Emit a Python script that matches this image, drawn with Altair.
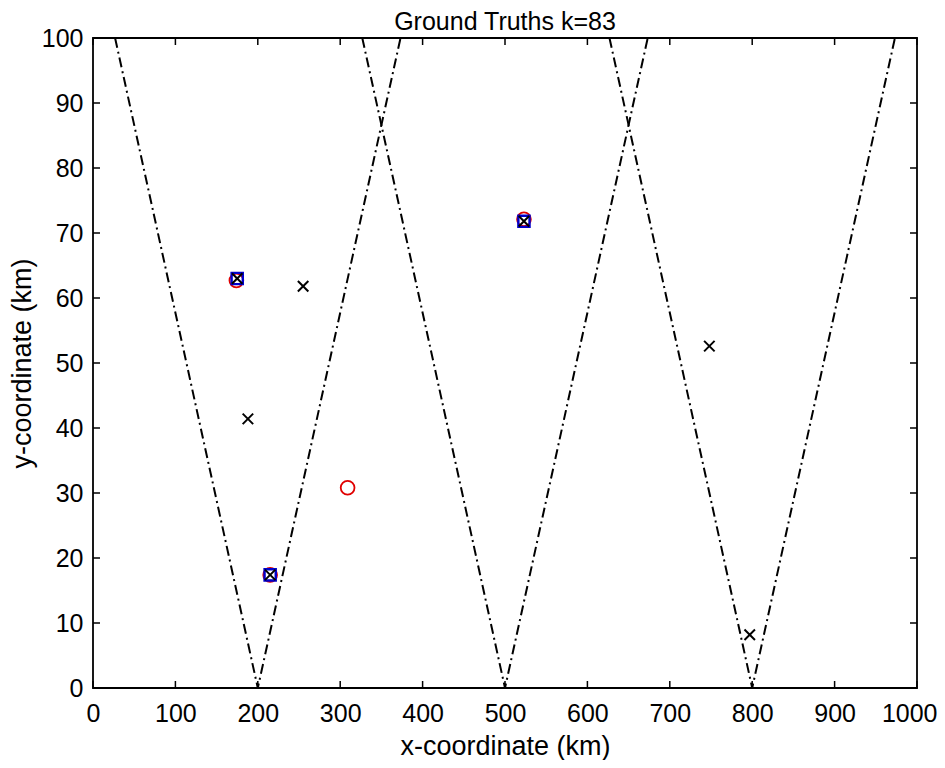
import altair as alt
import pandas as pd

# --- data ---
circle_x = [174, 215, 309, 523]
circle_y = [62.7, 17.4, 30.8, 72.1]

square_x = [175, 215, 523]
square_y = [63.0, 17.4, 71.8]

cross_x = [175, 255, 188, 215, 523, 748, 797]
cross_y = [63.0, 61.8, 41.4, 17.4, 71.8, 52.6, 8.2]

# V-shaped dash-dot boundary lines (vertices)
v1_x = [26.8, 200, 373.2]
v2_x = [326.8, 500, 673.2]
v3_x = [626.8, 800, 973.2]
v_y = [100, 0, 100]

x_ticks = [0, 100, 200, 300, 400, 500, 600, 700, 800, 900, 1000]
y_ticks = [0, 10, 20, 30, 40, 50, 60, 70, 80, 90, 100]

W, H = 824, 650
FONT = "Liberation Sans"
TICK = 7

xs = alt.Scale(domain=[0, 1000], nice=False, zero=False)
ys = alt.Scale(domain=[0, 100], nice=False, zero=False)
xaxis = alt.Axis(values=x_ticks, title="x-coordinate (km)", grid=False, domain=False,
                 ticks=False, labelPadding=13, titlePadding=7, format="d",
                 labelFlush=False,
                 labelAlign={"expr": "datum.value == 1000 ? 'right' : 'center'"},
                 labelOffset={"expr": "datum.value == 1000 ? 20 : 0"})
yaxis = alt.Axis(values=y_ticks, title="y-coordinate (km)", grid=False, domain=False,
                 ticks=False, labelPadding=10, titlePadding=5, format="d",
                 labelFlush=False)


def X(f):
    return alt.X(f, type="quantitative", scale=xs, axis=xaxis)


def Y(f):
    return alt.Y(f, type="quantitative", scale=ys, axis=yaxis)


lines_df = pd.concat([
    pd.DataFrame({"x": vx, "y": v_y, "g": g, "o": list(range(len(v_y)))})
    for g, vx in enumerate([v1_x, v2_x, v3_x])
])
circ_df = pd.DataFrame({"x": circle_x, "y": circle_y})
sq_df = pd.DataFrame({"x": square_x, "y": square_y})
cr_df = pd.DataFrame({"x": cross_x, "y": cross_y})
xt_df = pd.DataFrame({"x": x_ticks})
yt_df = pd.DataFrame({"y": y_ticks})

lines = alt.Chart(lines_df).mark_line(color="black", strokeWidth=2,
                                      strokeDash=[10, 4, 2, 4], clip=True).encode(
    x=X("x"), y=Y("y"), detail="g:N", order="o:Q")

circles = alt.Chart(circ_df).mark_point(shape="circle", filled=False, color="#e00000",
                                        size=190, strokeWidth=1.8, opacity=1).encode(
    x=X("x"), y=Y("y"))
squares = alt.Chart(sq_df).mark_point(shape="square", filled=False, color="#0000cc",
                                      size=125, strokeWidth=2.4, opacity=1).encode(
    x=X("x"), y=Y("y"))
crosses = alt.Chart(cr_df).mark_point(shape="M-1,-1L1,1M-1,1L1,-1", filled=False, color="black",
                                      size=110, strokeWidth=2, opacity=1).encode(
    x=X("x"), y=Y("y"))

xt_bot = alt.Chart(xt_df).mark_rule(color="black", strokeWidth=1.5).encode(
    x=X("x"), y=alt.value(H), y2=alt.value(H - TICK))
xt_top = alt.Chart(xt_df).mark_rule(color="black", strokeWidth=1.5).encode(
    x=X("x"), y=alt.value(0), y2=alt.value(TICK))
yt_left = alt.Chart(yt_df).mark_rule(color="black", strokeWidth=1.5).encode(
    y=Y("y"), x=alt.value(0), x2=alt.value(TICK))
yt_right = alt.Chart(yt_df).mark_rule(color="black", strokeWidth=1.5).encode(
    y=Y("y"), x=alt.value(W), x2=alt.value(W - TICK))

chart = alt.layer(
    lines, xt_bot, xt_top, yt_left, yt_right, circles, squares, crosses
).properties(
    width=W, height=H,
    title=alt.Title("Ground Truths k=83", fontSize=25, font=FONT, fontWeight="normal",
                    color="black", offset=-9),
    autosize=alt.AutoSizeParams(type="none"),
    padding={"left": 85, "top": 30, "right": 20, "bottom": 72},
).configure_view(
    stroke="black", strokeWidth=1.8
).configure_axis(
    labelFont=FONT, labelFontSize=25, labelColor="black",
    titleFont=FONT, titleFontSize=27, titleFontWeight="normal", titleColor="black",
)

chart.save("out.html", embed_options={"renderer": "svg", "actions": False})
